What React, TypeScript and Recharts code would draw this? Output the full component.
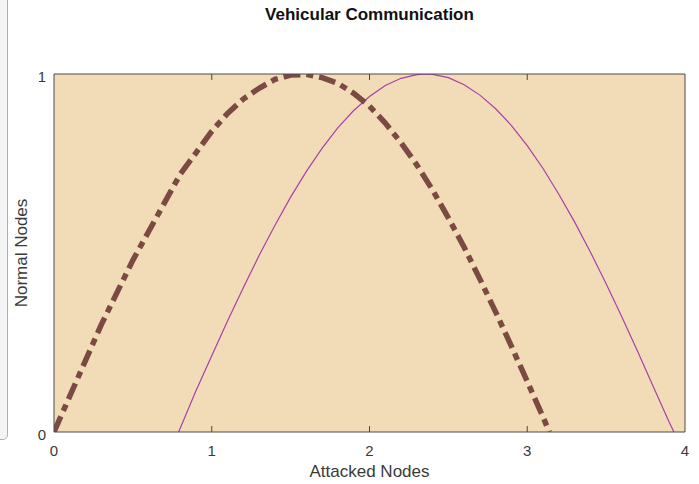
import React from 'react';
import { LineChart, Line, XAxis, YAxis, CartesianGrid, Label } from 'recharts';

const brownX = [0, 0.1, 0.2, 0.3, 0.4, 0.5, 0.6, 0.7, 0.8, 0.9, 1.0, 1.1, 1.2, 1.3, 1.4, 1.5, 1.6, 1.7, 1.8, 1.9, 2.0, 2.1, 2.2, 2.3, 2.4, 2.5, 2.6, 2.7, 2.8, 2.9, 3.0, 3.1, 3.14];
const brownY = [0, 0.10, 0.20, 0.30, 0.39, 0.48, 0.56, 0.64, 0.72, 0.78, 0.84, 0.89, 0.93, 0.96, 0.985, 0.997, 0.999, 0.99, 0.974, 0.946, 0.91, 0.863, 0.808, 0.746, 0.676, 0.598, 0.516, 0.427, 0.335, 0.239, 0.141, 0.042, 0];

const magentaX = [0.79, 0.9, 1.0, 1.1, 1.2, 1.3, 1.4, 1.5, 1.6, 1.7, 1.8, 1.9, 2.0, 2.1, 2.2, 2.3, 2.36, 2.4, 2.5, 2.6, 2.7, 2.8, 2.9, 3.0, 3.1, 3.2, 3.3, 3.4, 3.5, 3.6, 3.7, 3.8, 3.9, 3.93];
const magentaY = [0, 0.115, 0.213, 0.31, 0.403, 0.493, 0.577, 0.656, 0.728, 0.793, 0.85, 0.898, 0.937, 0.968, 0.988, 0.998, 1.0, 0.999, 0.99, 0.97, 0.941, 0.903, 0.856, 0.8, 0.736, 0.664, 0.587, 0.503, 0.414, 0.321, 0.225, 0.126, 0.027, 0];

const xTicks = [0, 1, 2, 3, 4];
const yTicks = [0, 1];

const title = 'Vehicular Communication';
const xTitle = 'Attacked Nodes';
const yTitle = 'Normal Nodes';

const brownData = brownX.map((x, i) => ({ x, y: brownY[i] }));
const magentaData = magentaX.map((x, i) => ({ x, y: magentaY[i] }));

const FONT = '"Liberation Sans", Arial, Helvetica, sans-serif';
const AXIS = '#4a4a4a';
const TICKTEXT = '#3a3a3a';

const BottomTick = (props: any) => {
  const { x, y, payload } = props;
  const axisY = y - 6;
  return (
    <g>
      {payload.value !== 0 && payload.value !== 4 && (
        <line x1={x} x2={x} y1={axisY} y2={axisY - 6} stroke={AXIS} strokeWidth={1} />
      )}
      <text x={x} y={axisY + 24} textAnchor="middle" fontFamily={FONT} fontSize={15} fill={TICKTEXT}>
        {payload.value}
      </text>
    </g>
  );
};

const TopTick = (props: any) => {
  const { x, y, payload } = props;
  const axisY = y + 6;
  if (payload.value === 0 || payload.value === 4) return <g />;
  return <line x1={x} x2={x} y1={axisY} y2={axisY + 6} stroke={AXIS} strokeWidth={1} />;
};

const LeftTick = (props: any) => {
  const { x, y, payload } = props;
  return (
    <text x={x} y={y + 8} textAnchor="end" fontFamily={FONT} fontSize={15} fill={TICKTEXT}>
      {payload.value}
    </text>
  );
};

const YTitle = (props: any) => {
  const vb = props.viewBox || {};
  const cy = vb.y + vb.height / 2;
  const cx = 27;
  return (
    <text x={cx} y={cy} textAnchor="middle" transform={`rotate(-90 ${cx} ${cy})`} fontFamily={FONT} fontSize={17} fill={TICKTEXT}>
      {yTitle}
    </text>
  );
};

export default function App() {
  return (
    <div style={{ position: 'absolute', left: 0, top: 0, width: 699, height: 484, background: '#ffffff', overflow: 'hidden' }}>
      <div
        style={{
          position: 'absolute',
          left: -20,
          top: -10,
          width: 26,
          height: 448,
          border: '1px solid #b0b0b0',
          borderRadius: 5,
          background: '#f4f4f4',
        }}
      />
      <div
        style={{
          position: 'absolute',
          left: 0,
          width: 739,
          top: 5,
          textAlign: 'center',
          fontFamily: FONT,
          fontWeight: 'bold',
          fontSize: 17,
          lineHeight: '20px',
          color: '#111',
        }}
      >
        {title}
      </div>
      <div style={{ position: 'absolute', left: 0, top: 0 }}>
        <LineChart width={699} height={484} margin={{ top: 73, right: 13, bottom: 0, left: 0 }}>
          <CartesianGrid horizontal={false} vertical={false} fill="#f2dcb8" />
          <XAxis
            xAxisId="b"
            dataKey="x"
            type="number"
            domain={[0, 4]}
            ticks={xTicks}
            orientation="bottom"
            height={52}
            tickSize={0}
            tickMargin={6}
            tickLine={false}
            tick={<BottomTick />}
            axisLine={{ stroke: AXIS, strokeWidth: 1 }}
            allowDataOverflow
          >
            <Label
              position="insideBottom"
              offset={7}
              value={xTitle}
              style={{ fontFamily: FONT, fontSize: 17, fill: TICKTEXT }}
            />
          </XAxis>
          <XAxis
            xAxisId="t"
            dataKey="x"
            type="number"
            domain={[0, 4]}
            ticks={xTicks}
            orientation="top"
            height={1}
            tickSize={0}
            tickMargin={6}
            tickLine={false}
            tick={<TopTick />}
            axisLine={{ stroke: AXIS, strokeWidth: 1 }}
            allowDataOverflow
          />
          <YAxis
            yAxisId="l"
            type="number"
            domain={[0, 1]}
            ticks={yTicks}
            orientation="left"
            width={54}
            tickSize={0}
            tickMargin={8}
            tickLine={false}
            tick={<LeftTick />}
            axisLine={{ stroke: AXIS, strokeWidth: 1 }}
            allowDataOverflow
          >
            <Label content={<YTitle />} />
          </YAxis>
          <YAxis
            yAxisId="r"
            type="number"
            domain={[0, 1]}
            ticks={yTicks}
            orientation="right"
            width={1}
            tick={false}
            tickLine={false}
            axisLine={{ stroke: AXIS, strokeWidth: 1 }}
          />
          <Line
            xAxisId="b"
            yAxisId="l"
            data={magentaData}
            dataKey="y"
            type="linear"
            stroke="#a840a8"
            strokeWidth={1.2}
            dot={false}
            activeDot={false}
            isAnimationActive={false}
          />
          <Line
            xAxisId="b"
            yAxisId="l"
            data={brownData}
            dataKey="y"
            type="linear"
            stroke="#7b4a42"
            strokeWidth={5.5}
            strokeDasharray="17 6 7 6"
            dot={false}
            activeDot={false}
            isAnimationActive={false}
          />
        </LineChart>
      </div>
    </div>
  );
}
